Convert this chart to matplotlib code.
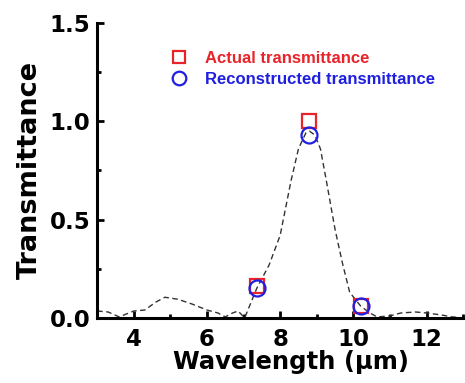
import matplotlib
matplotlib.use('Agg')
import matplotlib.pyplot as plt
from matplotlib.ticker import MultipleLocator, FormatStrFormatter

plt.rcParams['font.family'] = ['DejaVu Sans']
plt.rcParams['font.weight'] = 'bold'

# reconstructed spectrum
curve_x = [3.0, 3.3, 3.6, 3.8, 4.0, 4.3, 4.6, 4.85, 5.2, 5.6, 6.0, 6.3, 6.5,
           6.7, 6.85, 7.03, 7.36, 7.7, 8.0, 8.3, 8.5, 8.7, 8.8, 8.95, 9.1,
           9.25, 9.5, 9.7, 9.9, 10.2, 10.45, 10.65, 11.0, 11.3, 11.7, 12.0,
           12.4, 12.7, 13.0]
curve_y = [0.035, 0.03, 0.005, 0.02, 0.035, 0.04, 0.08, 0.105, 0.095, 0.07,
           0.04, 0.025, 0.005, 0.025, 0.035, 0.0, 0.15, 0.27, 0.42, 0.70,
           0.86, 0.94, 0.95, 0.93, 0.86, 0.71, 0.45, 0.28, 0.13, 0.06, 0.025,
           0.005, 0.01, 0.025, 0.03, 0.025, 0.015, 0.005, 0.0]

sample_x = [7.38, 8.8, 10.2]
actual_y = [0.16, 1.0, 0.06]
recon_y = [0.15, 0.93, 0.06]

fig = plt.figure(figsize=(4.65, 3.83), dpi=100)
ax = fig.add_axes([0.209, 0.170, 0.787, 0.770])

ax.plot(curve_x, curve_y, color='#333333', lw=1.0, ls=(0, (4, 2.5)))
ax.plot(sample_x, actual_y, 's', ms=10, mfc='none', mec='#e8232a', mew=1.6,
        label='Actual transmittance')
ax.plot(sample_x, recon_y, 'o', ms=11.5, mfc='none', mec='#1f1fe0', mew=1.6,
        label='Reconstructed transmittance')

ax.set_xlim(3, 13)
ax.set_ylim(0, 1.5)
ax.set_xticks([4, 6, 8, 10, 12])
ax.xaxis.set_minor_locator(MultipleLocator(1))
ax.yaxis.set_major_locator(MultipleLocator(0.5))
ax.yaxis.set_minor_locator(MultipleLocator(0.25))
ax.yaxis.set_major_formatter(FormatStrFormatter('%.1f'))

for s in ['top', 'right']:
   ax.spines[s].set_visible(False)
for s in ['left', 'bottom']:
   ax.spines[s].set_linewidth(2.2)
ax.tick_params(which='major', direction='in', length=5, width=2,
               labelsize=16.5)
ax.tick_params(axis='x', which='major', pad=7)
ax.tick_params(axis='y', which='major', pad=5)
ax.tick_params(which='minor', direction='in', length=3, width=2)

ax.set_xlabel('Wavelength (\u03bcm)', fontsize=17.5, fontweight='bold')
ax.xaxis.set_label_coords(0.53, -0.11)
ax.set_ylabel('Transmittance', fontsize=19.5, fontweight='bold', labelpad=5)

leg = ax.legend(loc='upper left', bbox_to_anchor=(0.2, 0.905), frameon=False,
                borderaxespad=0, borderpad=0, markerscale=0.85,
                handlelength=1.0, handletextpad=1.1, labelspacing=0.35,
                prop={'family': 'Liberation Sans', 'size': 12, 'weight': 'bold'})
for txt, col in zip(leg.get_texts(), ['#e8232a', '#1f1fe0']):
   txt.set_color(col)

fig.savefig('out.png', dpi=100)
